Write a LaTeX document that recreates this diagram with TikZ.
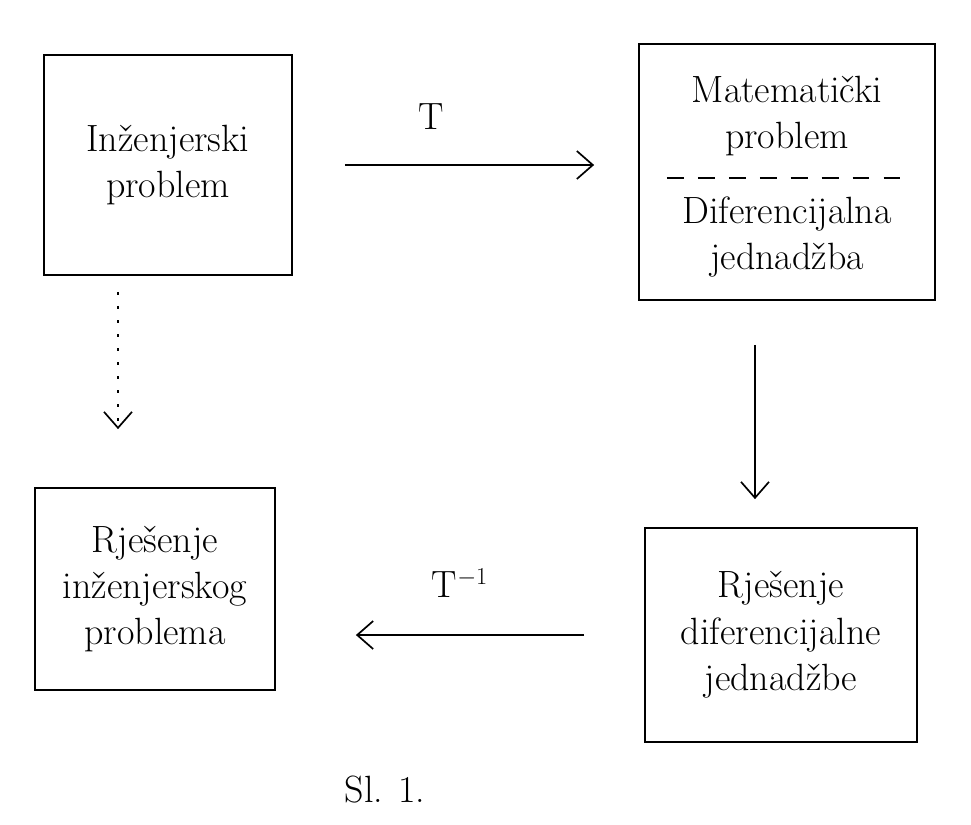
\documentclass[tikz,border=0pt]{standalone}
\usepackage{fontspec}
\usetikzlibrary{positioning,arrows.meta}
\begin{document}
\begin{tikzpicture}[x=0.025cm,y=-0.025cm,
    box/.style={draw, line width=1.2pt, align=center, font=\fontsize{27}{33}\selectfont},
    lbl/.style={align=center, font=\fontsize{27}{33}\selectfont},
    arr/.style={->, line width=1.2pt},
    >={Straight Barb[length=4mm,width=7mm]}]
  \useasboundingbox (0,0) rectangle (971,824);
  % boxes
  \node[box, minimum width=6.2cm, minimum height=5.5cm] (inz) at (168,165) {Inženjerski\\problem};
  \node[box, minimum width=7.4cm, minimum height=6.4cm] (mat) at (787,172) {};
  \node[lbl] (matt) at (787,116) {Matematički\\problem};
  \node[lbl] (dif) at (787,237) {Diferencijalna\\jednadžba};
  \coordinate (split) at (787,178);
  \draw[dashed, line width=1.2pt, dash pattern=on 12pt off 10pt] ([xshift=-3cm]split) -- ([xshift=3cm]split);
  \node[box, minimum width=6cm, minimum height=5.05cm] (rinz) at (155,589) {Rješenje\\inženjerskog\\problema};
  \node[box, minimum width=6.8cm, minimum height=5.35cm] (rdif) at (781,635) {Rješenje\\diferencijalne\\jednadžbe};
  % arrows
  \draw[arr, shorten <=1.3cm, shorten >=1.1cm] (inz.east) -- (inz.east -| mat.west)
    node[pos=0.4, above=0.75cm, lbl] {T};
  \draw[arr, dash pattern=on 2pt off 8pt, shorten <=0.4cm, shorten >=1.45cm] ([xshift=-1.25cm]inz.south) -- ([xshift=-1.25cm]inz.south |- rinz.north);
  \draw[arr, shorten <=1.1cm, shorten >=0.7cm] ([xshift=-0.8cm]mat.south) -- ([xshift=-0.8cm]mat.south |- rdif.north);
  \draw[arr, shorten <=1.5cm, shorten >=2cm] (rdif.west) -- (rdif.west -| rinz.east)
    node[midway, above=0.8cm, lbl] {T$^{-1}$};
  \node[lbl] (cap) at (385,790) {Sl. 1.};
\end{tikzpicture}
\end{document}
